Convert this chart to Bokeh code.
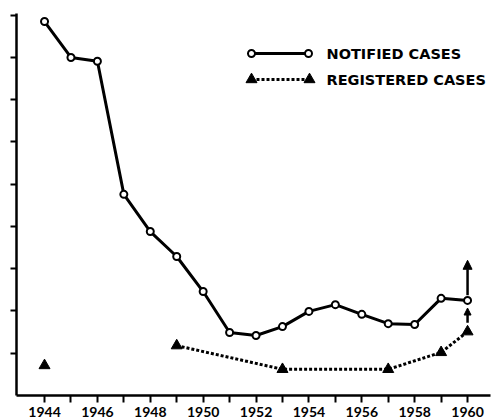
from bokeh.plotting import figure
from bokeh.models import Range1d, FixedTicker, Arrow, NormalHead, Label
from bokeh.core.properties import value
from bokeh.embed import file_html
from bokeh.resources import INLINE

# ---- data ----
years = list(range(1944, 1961))
notified = [8.85, 8.00, 7.91, 4.76, 3.88, 3.29, 2.46, 1.49, 1.42,
            1.63, 1.99, 2.15, 1.92, 1.70, 1.68, 2.30, 2.25]
reg_years = [1944, 1949, 1953, 1957, 1959, 1960]
registered = [0.71, 1.18, 0.62, 0.62, 1.02, 1.51]
label_years = [1944, 1946, 1948, 1950, 1952, 1954, 1956, 1958, 1960]
minor_years = [1945, 1947, 1949, 1951, 1953, 1955, 1957, 1959]
y_ticks = [1, 2, 3, 4, 5, 6, 7, 8, 9]
legend_labels = ["NOTIFIED CASES", "REGISTERED CASES"]

# ---- figure ----
p = figure(frame_width=474, frame_height=382,
           x_range=Range1d(1942.94, 1960.868), y_range=Range1d(0, 9.04),
           output_backend="svg", toolbar_location=None,
           min_border_left=16, min_border_top=13, min_border_right=1,
           min_border_bottom=0)
# pixel-like ranges for the hand-drawn legend
p.extra_x_ranges = {"px": Range1d(16, 490)}
p.extra_y_ranges = {"py": Range1d(395, 13)}

p.grid.visible = False
p.outline_line_color = None
p.background_fill_color = "white"
p.border_fill_color = "white"

xa = p.xaxis[0]
xa.ticker = FixedTicker(ticks=label_years, minor_ticks=minor_years)
xa.axis_line_width = 2.5
xa.axis_line_color = "black"
xa.major_tick_in = 0
xa.major_tick_out = 7
xa.minor_tick_in = 0
xa.minor_tick_out = 7
xa.major_tick_line_width = 2
xa.minor_tick_line_width = 2
xa.major_tick_line_color = "black"
xa.minor_tick_line_color = "black"
xa.major_label_text_font = "Lato"
xa.major_label_text_font_style = "bold"
xa.major_label_text_font_size = "14px"
xa.major_label_text_color = "black"
xa.major_label_standoff = 4

ya = p.yaxis[0]
ya.ticker = FixedTicker(ticks=y_ticks, minor_ticks=[])
ya.axis_line_width = 2.5
ya.axis_line_color = "black"
ya.major_tick_in = 0
ya.major_tick_out = 6
ya.major_tick_line_width = 2
ya.major_tick_line_color = "black"
ya.minor_tick_line_color = None
ya.major_label_text_font_size = "1px"
ya.major_label_text_color = None
ya.major_label_standoff = 0

# ---- notified cases ----
p.line(years, notified, line_color="black", line_width=3)
p.scatter(years, notified, marker="circle", size=7, fill_color="white",
          line_color="black", line_width=2)

# ---- registered cases ----
p.line(reg_years[1:], registered[1:], line_color="black", line_width=3,
       line_dash="3 2")
p.scatter(reg_years, registered, marker="triangle", size=11,
          fill_color="black", line_color="black", line_width=1)

# ---- arrows at 1960 ----
xl = years[-1]
n_last = notified[-1]
r_last = registered[-1]
p.add_layout(Arrow(end=NormalHead(size=9, fill_color="black", line_color="black"),
                   x_start=xl, y_start=n_last + 0.12, x_end=xl, y_end=n_last + 0.95,
                   line_width=2.5, line_color="black"))
p.add_layout(Arrow(end=NormalHead(size=7, fill_color="black", line_color="black"),
                   x_start=xl, y_start=r_last + 0.21, x_end=xl, y_end=n_last - 0.18,
                   line_width=2.5, line_color="black"))

# ---- legend (drawn by hand, pixel ranges) ----
p.line([251, 308], [53, 53], x_range_name="px", y_range_name="py",
       line_color="black", line_width=3)
p.scatter([251, 308], [53, 53], x_range_name="px", y_range_name="py",
          marker="circle", size=7, fill_color="white", line_color="black", line_width=2)
p.line([251, 309], [79, 79], x_range_name="px", y_range_name="py",
       line_color="black", line_width=3, line_dash="3 2")
p.scatter([251, 309], [79, 79], x_range_name="px", y_range_name="py",
          marker="triangle", size=11, fill_color="black", line_color="black", line_width=1)
for tx, ty, lab in zip([326, 326], [53, 79], legend_labels):
    p.add_layout(Label(x=tx, y=ty, text=lab, x_range_name="px", y_range_name="py",
                       text_font="DejaVu Sans", text_font_style="bold",
                       text_font_size="14.5px", text_baseline="middle",
                       text_align="left", text_color="black"))

open("out.html", "w").write(file_html(p, INLINE))
